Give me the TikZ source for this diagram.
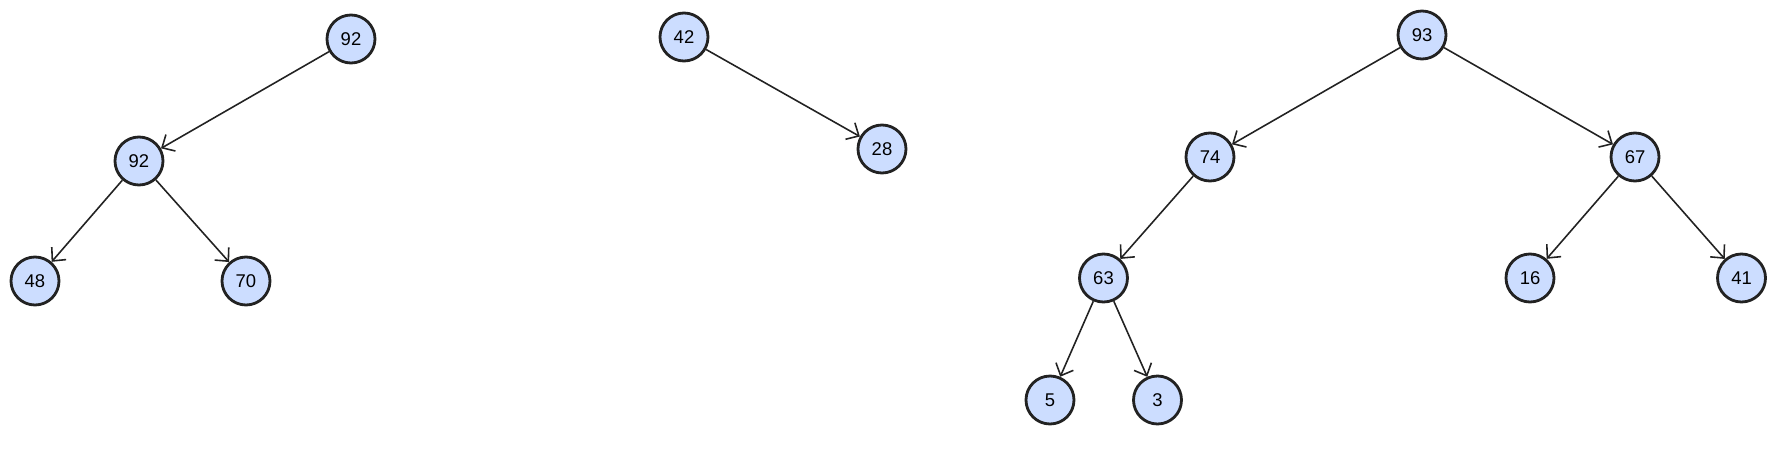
\documentclass[tikz,border=0pt]{standalone}
\usepackage{fontspec}
\setmainfont{Liberation Sans}
\usepackage{tikz}
\usetikzlibrary{arrows.meta, positioning}
\definecolor{heapblue}{RGB}{204,221,255}
\definecolor{heapline}{RGB}{34,34,34}

\begin{document}
\begin{tikzpicture}[
    key/.style={circle, draw=heapline, line width=1.6pt, fill=heapblue,
                minimum size=0.96cm, inner sep=0pt,
                font=\fontsize{10.5}{12}\selectfont},
    link/.style={-{Straight Barb[length=2mm, width=3.8mm]}, line width=0.9pt, heapline}]

\useasboundingbox (0,0) rectangle (35.64,-9.14);

%% Tree 1: 92 -> 92 -> (48, 70)
\node[key] (a92) at (7.02,-0.78) {92};
\node[key] (b92) at (2.78,-3.22) {92};
\node[key] (b48) at (0.70,-5.62) {48};
\node[key] (b70) at (4.92,-5.62) {70};

\draw[link] (a92) -- (b92);
\draw[link] (b92) -- (b48);
\draw[link] (b92) -- (b70);

%% Tree 2: 42 -> 28
\node[key] (c42) at (13.68,-0.74) {42};
\node[key] (c28) at (17.64,-2.98) {28};

\draw[link] (c42) -- (c28);

%% Tree 3: 93 at the root
\node[key] (d93) at (28.44,-0.70) {93};
\node[key] (d74) at (24.20,-3.14) {74};
\node[key] (d67) at (32.70,-3.14) {67};
\node[key] (d63) at (22.07,-5.56) {63};
\node[key] (d16) at (30.60,-5.56) {16};
\node[key] (d41) at (34.83,-5.56) {41};
\node[key] (d5)  at (21.00,-8.00) {5};
\node[key] (d3)  at (23.15,-8.00) {3};

\draw[link] (d93) -- (d74);
\draw[link] (d93) -- (d67);
\draw[link] (d74) -- (d63);
\draw[link] (d67) -- (d16);
\draw[link] (d67) -- (d41);
\draw[link] (d63) -- (d5);
\draw[link] (d63) -- (d3);

\end{tikzpicture}
\end{document}
